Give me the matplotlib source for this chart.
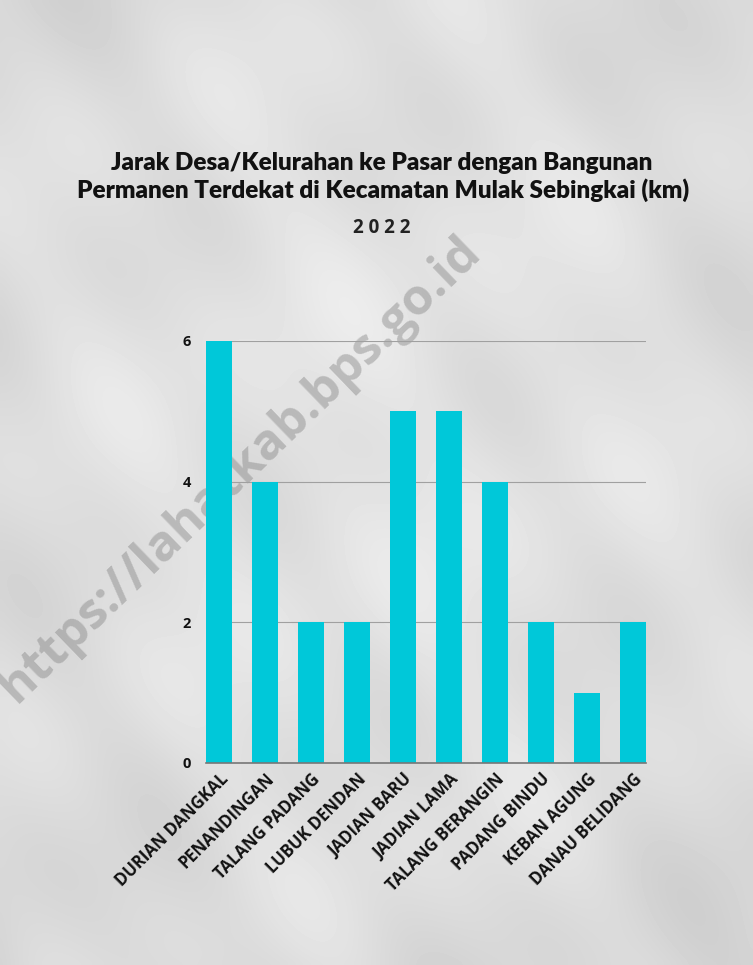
import matplotlib
matplotlib.use("Agg")
import matplotlib.pyplot as plt
import numpy as np

categories = ["DURIAN DANGKAL", "PENANDINGAN", "TALANG PADANG", "LUBUK DENDAN",
              "JADIAN BARU", "JADIAN LAMA", "TALANG BERANGIN", "PADANG BINDU",
              "KEBAN AGUNG", "DANAU BELIDANG"]
values = [6, 4, 2, 2, 5, 5, 4, 2, 1, 2]
yticks = [0, 2, 4, 6]
title_lines = ["Jarak Desa/Kelurahan ke Pasar dengan Bangunan",
               "Permanen Terdekat di Kecamatan Mulak Sebingkai (km)"]
subtitle = "2 0 2 2"
watermark = "https://lahatkab.bps.go.id"

W, H = 753, 965
fig = plt.figure(figsize=(W / 100, H / 100), dpi=100)
fig.patch.set_facecolor("#e3e3e3")

# subtle paper-like background shading
bg = fig.add_axes([0, 0, 1, 1], zorder=-10)
yy, xx = np.mgrid[0:1:200j, 0:1:160j]
shade = 0.89 - 0.05 * ((xx - 0.5) ** 2 + (yy - 0.55) ** 2) * 2 \
        + 0.015 * np.sin(18 * xx + 9 * yy) + 0.015 * np.sin(7 * xx - 21 * yy) \
        + 0.01 * np.sin(31 * xx + 27 * yy)
bg.imshow(shade, cmap="gray", vmin=0, vmax=1, extent=[0, 1, 0, 1],
          aspect="auto", origin="lower", interpolation="bicubic")
bg.set_axis_off()

# watermark
fig.text(240 / W, 1 - 470 / H, watermark, rotation=44, ha="center", va="center",
         fontsize=36, color="#808080", alpha=0.42, family="Open Sans",
         fontweight="bold", zorder=-5)

ax = fig.add_axes([206 / W, 1 - 763 / H, 440 / W, (763 - 341) / H])
ax.patch.set_alpha(0)
x = np.arange(len(categories))
bw = 26 / 46
ax.bar(x, values, width=bw, color="#00c8d9", zorder=3)
ax.set_xlim(-bw / 2, len(categories) - 1 + bw / 2)
ax.set_ylim(0, 6)
ax.set_yticks(yticks)
ax.set_yticklabels([str(v) for v in yticks], fontsize=10.5, fontweight="bold",
                   family="Open Sans", color="#111111")
ax.yaxis.grid(True, color="#a0a0a0", linewidth=0.8, zorder=0)
ax.tick_params(axis="y", length=0, pad=11)
ax.tick_params(axis="x", length=0, pad=5)
for s in ["top", "right", "left"]:
    ax.spines[s].set_visible(False)
ax.spines["bottom"].set_color("#777777")
ax.spines["bottom"].set_linewidth(1.2)
ax.spines["bottom"].set_zorder(4)
ax.set_xticks(x)
ax.set_xticklabels(categories, rotation=45, ha="right", va="top",
                   rotation_mode="anchor", fontsize=12, fontweight="bold",
                   family="Open Sans", color="#111111")

fig.text(382 / W, 1 - 163 / H, title_lines[0], ha="center", va="center",
         fontsize=17.5, fontweight="heavy", family="Lato", color="#111111")
fig.text(383 / W, 1 - 190 / H, title_lines[1], ha="center", va="center",
         fontsize=17.5, fontweight="heavy", family="Lato", color="#111111")
fig.text(382 / W, 1 - 228 / H, subtitle, ha="center", va="center",
         fontsize=13.5, fontweight="bold", family="Open Sans", color="#222222")

fig.savefig("out.png", dpi=100, facecolor=fig.get_facecolor())
